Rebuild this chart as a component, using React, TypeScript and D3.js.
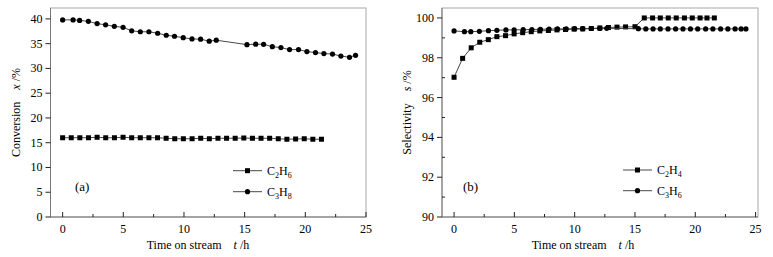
import React from "react";
import * as d3 from "d3";

// ---------- data ----------
const c2h6Time = [0, 0.71, 1.42, 2.13, 2.84, 3.55, 4.27, 4.98, 5.69, 6.4, 7.11, 7.82, 8.53, 9.24, 9.95, 10.67, 11.38, 12.09, 12.8, 13.51, 14.22, 14.93, 15.64, 16.35, 17.06, 17.77, 18.48, 19.2, 19.91, 20.62, 21.33];
const c2h6Conv = [16.0, 16.0, 16.0, 16.0, 16.1, 16.0, 16.0, 16.1, 16.0, 16.0, 16.0, 16.0, 15.9, 15.8, 15.8, 15.8, 15.9, 15.8, 15.9, 15.9, 15.9, 15.95, 15.9, 15.9, 15.9, 15.8, 15.7, 15.75, 15.8, 15.7, 15.7];

const c3h8Time = [0, 0.86, 1.4, 2.12, 2.84, 3.54, 4.26, 4.98, 5.69, 6.4, 7.11, 7.83, 8.54, 9.22, 9.94, 10.66, 11.37, 12.08, 12.66, 15.19, 15.91, 16.56, 17.28, 17.99, 18.7, 19.44, 20.13, 20.84, 21.53, 22.24, 22.93, 23.64, 24.14];
const c3h8Conv = [39.8, 39.8, 39.7, 39.5, 39.05, 38.8, 38.5, 38.3, 37.6, 37.4, 37.4, 37.1, 36.7, 36.5, 36.2, 35.95, 35.9, 35.5, 35.7, 34.8, 34.9, 34.87, 34.4, 34.2, 33.8, 33.8, 33.4, 33.2, 33.0, 32.9, 32.5, 32.25, 32.65];

const c2h4Time = [0, 0.71, 1.42, 2.13, 2.84, 3.55, 4.27, 4.98, 5.69, 6.4, 7.11, 7.82, 8.53, 9.24, 9.95, 10.67, 11.38, 12.09, 12.8, 13.51, 14.22, 15.0, 15.77, 16.46, 17.1, 17.76, 18.42, 19.1, 19.75, 20.4, 20.97, 21.58];
const c2h4Sel = [97.02, 97.97, 98.5, 98.78, 98.91, 99.06, 99.11, 99.2, 99.26, 99.31, 99.35, 99.37, 99.4, 99.42, 99.44, 99.45, 99.47, 99.5, 99.52, 99.54, 99.55, 99.56, 100, 100, 100, 100, 100, 100, 100, 100, 100, 100];

const c3h6Time = [0, 0.86, 1.39, 2.1, 2.85, 3.55, 4.3, 4.98, 5.73, 6.45, 7.16, 7.88, 8.57, 9.3, 10.0, 10.66, 11.37, 12.08, 12.66, 15.28, 15.9, 16.5, 17.1, 17.74, 18.37, 18.98, 19.6, 20.2, 20.86, 21.46, 22.1, 22.7, 23.3, 23.8, 24.2];
const c3h6Sel = [99.35, 99.31, 99.31, 99.33, 99.36, 99.38, 99.4, 99.4, 99.41, 99.42, 99.43, 99.44, 99.45, 99.45, 99.46, 99.46, 99.47, 99.47, 99.48, 99.46, 99.45, 99.45, 99.45, 99.45, 99.45, 99.45, 99.45, 99.45, 99.45, 99.45, 99.45, 99.45, 99.45, 99.45, 99.45];

const xTicks = [0, 5, 10, 15, 20, 25];
const xMinorTicks = [2.5, 7.5, 12.5, 17.5, 22.5];
const convTicks = [0, 5, 10, 15, 20, 25, 30, 35, 40];
const selTicks = [90, 92, 94, 96, 98, 100];
const selMinorTicks = [91, 93, 95, 97, 99];

const FONT = "'Liberation Serif', 'Times New Roman', serif";

type Series = { t: number[]; v: number[]; marker: "square" | "circle"; sub1: string; sub2: string };

function Panel(props: {
  x0: number; x1: number; y0: number; y1: number;
  xDomain: [number, number]; yDomain: [number, number];
  yTicks: number[]; yMinor: number[]; series: Series[];
  ylabel: string; yvar: string; tag: string;
  legendX: number; legendY: number[]; tagX: number; titleX: number;
}) {
  const { x0, x1, y0, y1 } = props;
  const xs = d3.scaleLinear().domain(props.xDomain).range([x0, x1]);
  const ys = d3.scaleLinear().domain(props.yDomain).range([y1, y0]);
  const line = d3.line<[number, number]>().x((d) => xs(d[0])).y((d) => ys(d[1]));
  const mk = (m: string, cx: number, cy: number, key: any) =>
    m === "square" ? (
      <rect key={key} x={cx - 2.5} y={cy - 2.5} width={5} height={5} fill="#000" />
    ) : (
      <circle key={key} cx={cx} cy={cy} r={2.6} fill="#000" />
    );
  const midY = (y0 + y1) / 2;
  return (
    <g fontFamily={FONT}>
      <rect x={x0} y={y0} width={x1 - x0} height={y1 - y0} fill="none" stroke="#a8a8a8" strokeWidth={1} />
      <line x1={x0} x2={x0} y1={y0} y2={y1} stroke="#777" />
      <line x1={x0} x2={x1} y1={y1} y2={y1} stroke="#777" />
      {xTicks.map((t) => (
        <g key={"xt" + t}>
          <line x1={xs(t)} x2={xs(t)} y1={y1} y2={y1 - 5} stroke="#222" />
          <text x={xs(t)} y={y1 + 16} textAnchor="middle" fontSize={12}>{t}</text>
        </g>
      ))}
      {xMinorTicks.map((t) => (
        <line key={"xm" + t} x1={xs(t)} x2={xs(t)} y1={y1} y2={y1 - 3} stroke="#222" />
      ))}
      {props.yTicks.map((t) => (
        <g key={"yt" + t}>
          <line x1={x0} x2={x0 - 5} y1={ys(t)} y2={ys(t)} stroke="#222" />
          <text x={x0 - 8} y={ys(t) + 4} textAnchor="end" fontSize={12}>{t}</text>
        </g>
      ))}
      {props.yMinor.map((t) => (
        <line key={"ym" + t} x1={x0} x2={x0 + 3} y1={ys(t)} y2={ys(t)} stroke="#222" />
      ))}
      {props.series.map((s, i) => {
        const pts = s.t.map((t, j) => [t, s.v[j]] as [number, number]);
        return (
          <g key={"s" + i}>
            <path d={line(pts) || ""} fill="none" stroke="#333" strokeWidth={0.9} />
            {pts.map((p, j) => mk(s.marker, xs(p[0]), ys(p[1]), j))}
          </g>
        );
      })}
      {props.series.map((s, i) => {
        const ly = props.legendY[i];
        const lx = props.legendX;
        return (
          <g key={"l" + i}>
            <line x1={lx} x2={lx + 29} y1={ly} y2={ly} stroke="#333" strokeWidth={0.9} />
            {mk(s.marker, lx + 14.5, ly, "m")}
            <text x={lx + 34} y={ly + 4} fontSize={12}>
              C<tspan fontSize={8} dy={3}>{s.sub1}</tspan>
              <tspan dy={-3}>H</tspan>
              <tspan fontSize={8} dy={3}>{s.sub2}</tspan>
            </text>
          </g>
        );
      })}
      <text x={props.tagX} y={191} fontSize={13}>{props.tag}</text>
      <text x={props.titleX} y={249} fontSize={12} textAnchor="middle">
        Time on stream<tspan dx={12} fontStyle="italic">t</tspan> /h
      </text>
      <text transform={`translate(${x0 - 31},${midY}) rotate(-90)`} textAnchor="middle" fontSize={12}>
        {props.ylabel}<tspan dx={12} fontStyle="italic">{props.yvar}</tspan> /%
      </text>
    </g>
  );
}

export default function App() {
  return (
    <svg width={773} height={257} style={{ position: "absolute", left: 0, top: 0, background: "#fff" }}>
      <Panel
        x0={50.5} x1={366} y0={8} y1={217}
        xDomain={[-1, 25]} yDomain={[0, 42.2]}
        yTicks={convTicks} yMinor={[]}
        series={[
          { t: c2h6Time, v: c2h6Conv, marker: "square", sub1: "2", sub2: "6" },
          { t: c3h8Time, v: c3h8Conv, marker: "circle", sub1: "3", sub2: "8" },
        ]}
        ylabel="Conversion" yvar="x" tag="(a)"
        legendX={233} legendY={[170.7, 191.7]} tagX={75} titleX={198}
      />
      <Panel
        x0={442} x1={758} y0={8} y1={217}
        xDomain={[-1, 25.2]} yDomain={[90, 100.5]}
        yTicks={selTicks} yMinor={selMinorTicks}
        series={[
          { t: c2h4Time, v: c2h4Sel, marker: "square", sub1: "2", sub2: "4" },
          { t: c3h6Time, v: c3h6Sel, marker: "circle", sub1: "3", sub2: "6" },
        ]}
        ylabel="Selectivity" yvar="s" tag="(b)"
        legendX={623} legendY={[170, 190.7]} tagX={463} titleX={583}
      />
    </svg>
  );
}
